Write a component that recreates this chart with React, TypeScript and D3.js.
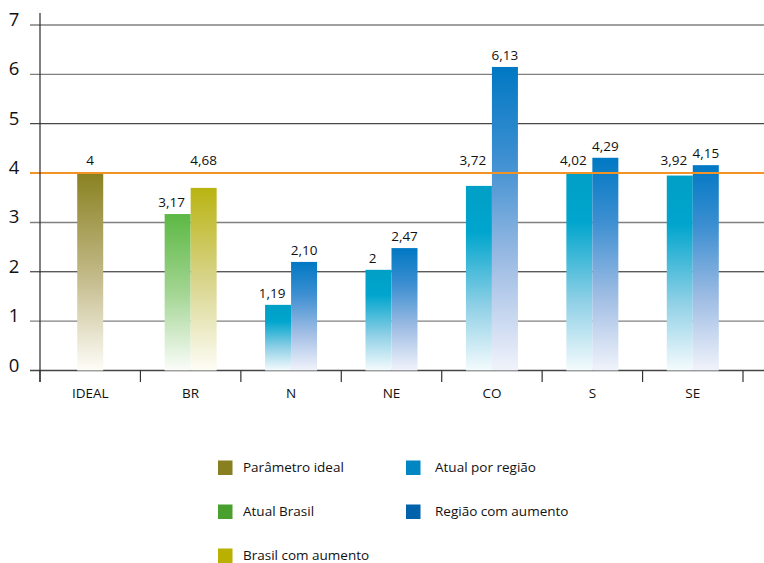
import React from "react";
import * as d3 from "d3";

// ---------- DATA ----------
const categories = ["IDEAL", "BR", "N", "NE", "CO", "S", "SE"];

const parametroIdeal = [4, null, null, null, null, null, null];
const atualBrasil = [null, 3.17, null, null, null, null, null];
const brasilAumento = [null, 3.7, null, null, null, null, null];
const atualRegiao = [null, null, 1.33, 2.04, 3.74, 4.02, 3.95];
const regiaoAumento = [null, null, 2.2, 2.48, 6.15, 4.31, 4.16];

const labelsIdeal = ["4", "", "", "", "", "", ""];
const labelsAtualBrasil = ["", "3,17", "", "", "", "", ""];
const labelsBrasilAumento = ["", "4,68", "", "", "", "", ""];
const labelsAtualRegiao = ["", "", "1,19", "2", "3,72", "4,02", "3,92"];
const labelsRegiaoAumento = ["", "", "2,10", "2,47", "6,13", "4,29", "4,15"];

const yTicks = [0, 1, 2, 3, 4, 5, 6, 7];
const referenceValue = 4;

const seriesNames = [
  "Parâmetro ideal",
  "Atual Brasil",
  "Brasil com aumento",
  "Atual por região",
  "Região com aumento",
];

// ---------- STYLE ----------
const seriesValues = [parametroIdeal, atualBrasil, brasilAumento, atualRegiao, regiaoAumento];
const seriesLabels = [labelsIdeal, labelsAtualBrasil, labelsBrasilAumento, labelsAtualRegiao, labelsRegiaoAumento];
const legendColors = ["#877f20", "#4aa02f", "#b9b000", "#0086c3", "#0062aa"];
const gradients = [
  [{ o: 0, c: "#898120" }, { o: 0.5, c: "#c0b784" }, { o: 1, c: "#fefdf8" }],
  [{ o: 0, c: "#5cb843" }, { o: 0.5, c: "#a2d592" }, { o: 1, c: "#fbfdfa" }],
  [{ o: 0, c: "#b9b411" }, { o: 0.5, c: "#d8d48a" }, { o: 1, c: "#fdfdf6" }],
  [{ o: 0, c: "#009fc6" }, { o: 0.25, c: "#00a5cd" }, { o: 0.65, c: "#8fd0e6" }, { o: 1, c: "#f4fbfd" }],
  [{ o: 0, c: "#0078c3" }, { o: 0.3, c: "#3d8fd1" }, { o: 0.65, c: "#9fbde4" }, { o: 1, c: "#f1f3fb" }],
];
const gridStyle: Record<number, { c: string; w: number }> = {
  0: { c: "#444", w: 1.3 },
  1: { c: "#808080", w: 1.4 },
  2: { c: "#1a1a1a", w: 1 },
  3: { c: "#808080", w: 1.4 },
  4: { c: "#808080", w: 1.4 },
  5: { c: "#1a1a1a", w: 1 },
  6: { c: "#808080", w: 1.4 },
  7: { c: "#808080", w: 1.4 },
};

const W = 764;
const H = 563;
const FONT = "'Open Sans', 'Noto Sans', sans-serif";
const TEXT = "#111";

export default function App() {
  const x = d3.scaleBand<string>().domain(categories).range([40, 743]).padding(0);
  const y = d3.scaleLinear().domain([0, 7]).range([370.5, 25]);
  const barW = 26;
  const yRef = y(referenceValue);

  const bars: any[] = [];
  categories.forEach((cat, ci) => {
    const present = seriesValues
      .map((s, si) => ({ si, v: s[ci], label: seriesLabels[si][ci] }))
      .filter((d) => d.v != null);
    const center = (x(cat) as number) + x.bandwidth() / 2;
    const start = center - (present.length * barW) / 2;
    present.forEach((d, k) => {
      const bx = start + k * barW;
      const top = y(d.v as number);
      let ly = top - 7;
      if (ly > yRef - 9 && ly < yRef + 16) ly = yRef - 8;
      const lx = present.length > 1 && k === 0 ? bx + barW / 2 - 6 : bx + barW / 2;
      bars.push({ key: `${ci}-${d.si}`, si: d.si, bx, top, label: d.label, lx, ly });
    });
  });

  const boundaries = categories.map((c) => x(c) as number).concat([x.range()[1]]);

  return (
    <svg
      width={W}
      height={H}
      style={{ position: "absolute", left: 0, top: 0, background: "#fff" }}
      fontFamily={FONT}
    >
      <defs>
        {gradients.map((g, i) => (
          <linearGradient key={i} id={`g${i}`} x1="0" y1="0" x2="0" y2="1">
            {g.map((s, j) => (
              <stop key={j} offset={s.o} stopColor={s.c} />
            ))}
          </linearGradient>
        ))}
      </defs>

      {/* gridlines */}
      {yTicks.map((t) => (
        <line
          key={t}
          x1={30}
          x2={W}
          y1={y(t)}
          y2={y(t)}
          stroke={gridStyle[t].c}
          strokeWidth={gridStyle[t].w}
        />
      ))}

      {/* y tick labels */}
      {yTicks.map((t) => (
        <text key={t} x={14} y={y(t) + 1} fontSize={18.5} textAnchor="middle" fill={TEXT}>
          {t}
        </text>
      ))}

      {/* bars */}
      {bars.map((b) => (
        <rect
          key={b.key}
          x={b.bx}
          y={b.top}
          width={barW}
          height={y(0) - b.top}
          fill={`url(#g${b.si})`}
        />
      ))}

      {/* reference line */}
      <line x1={30} x2={W} y1={yRef} y2={yRef} stroke="#f39325" strokeWidth={2} />

      {/* y axis line */}
      <line x1={40} x2={40} y1={13} y2={382} stroke="#2a2a2a" strokeWidth={1.2} />

      {/* x ticks */}
      {boundaries.map((bx, i) => (
        <line key={i} x1={bx} x2={bx} y1={y(0)} y2={382} stroke="#333" strokeWidth={1.2} />
      ))}

      {/* category labels */}
      {categories.map((c) => (
        <text
          key={c}
          x={(x(c) as number) + x.bandwidth() / 2}
          y={398}
          fontSize={13.5}
          textAnchor="middle"
          fill={TEXT}
        >
          {c}
        </text>
      ))}

      {/* value labels */}
      {bars.map((b) => (
        <text key={"l" + b.key} x={b.lx} y={b.ly} fontSize={13.5} textAnchor="middle" fill={TEXT}>
          {b.label}
        </text>
      ))}

      {/* legend */}
      {seriesNames.map((name, i) => {
        const col = i < 3 ? 0 : 1;
        const row = i < 3 ? i : i - 3;
        const lx = col === 0 ? 218 : 406;
        const ly = 460.5 + row * 44;
        return (
          <g key={name}>
            <rect x={lx} y={ly} width={14.5} height={14.5} fill={legendColors[i]} />
            <text x={lx + (col === 0 ? 25 : 29)} y={ly + 11.5} fontSize={13.5} fill={TEXT}>
              {name}
            </text>
          </g>
        );
      })}
    </svg>
  );
}
